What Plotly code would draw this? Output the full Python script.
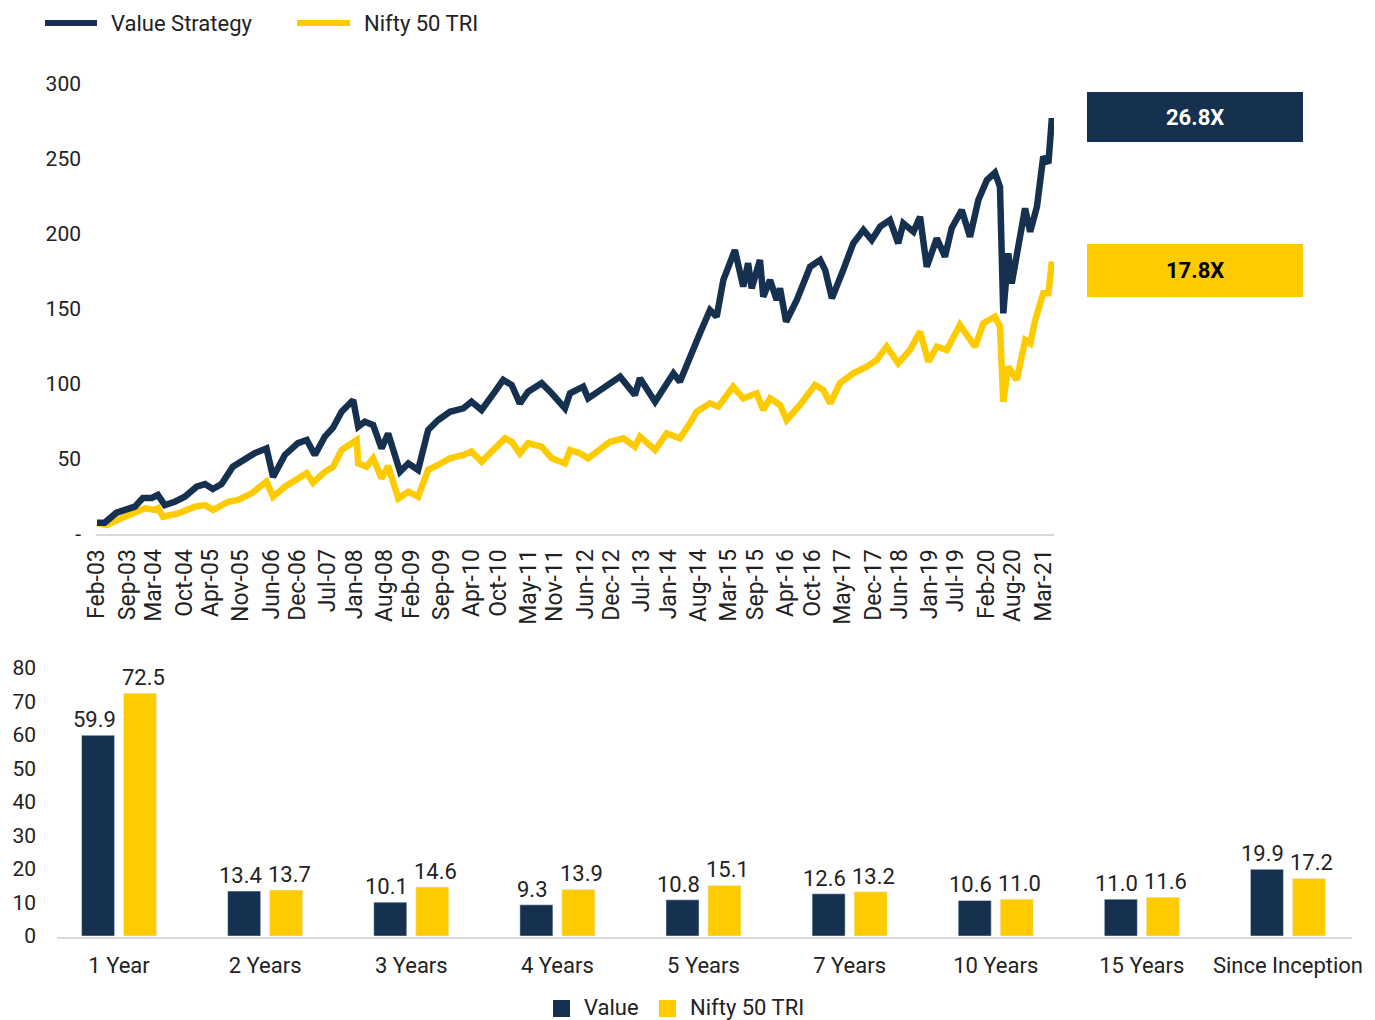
import plotly.graph_objects as go
import pandas as pd

# ---------------- data ----------------
value_dates = ["2003-02-01","2003-03-26","2003-06-17","2003-10-23","2003-12-18","2004-02-18","2004-04-01","2004-05-19",
    "2004-07-28","2004-10-06","2004-12-27","2005-02-24","2005-04-19","2005-06-19","2005-09-06","2005-11-06",
    "2006-02-08","2006-04-29","2006-06-14","2006-09-04","2006-12-04","2007-02-04","2007-04-01","2007-06-10",
    "2007-08-05","2007-10-05","2007-12-25","2008-01-29","2008-03-15","2008-05-12","2008-07-10","2008-08-25",
    "2008-11-16","2009-01-13","2009-03-22","2009-05-31","2009-08-09","2009-10-30","2010-02-01","2010-03-30",
    "2010-06-08","2010-09-09","2010-11-06","2011-01-04","2011-03-02","2011-04-29","2011-08-01","2011-10-10",
    "2012-01-11","2012-02-15","2012-05-17","2012-06-21","2012-10-04","2013-01-30","2013-05-13","2013-06-17",
    "2013-10-01","2014-02-06","2014-03-23","2014-05-20","2014-08-10","2014-10-19","2014-12-05","2015-01-20",
    "2015-04-11","2015-06-08","2015-07-12","2015-08-06","2015-10-03","2015-10-26","2015-12-12","2016-01-28",
    "2016-02-20","2016-04-02","2016-06-16","2016-09-17","2016-11-26","2016-12-31","2017-02-16","2017-05-06",
    "2017-07-15","2017-09-24","2017-11-21","2018-01-19","2018-03-28","2018-05-25","2018-06-29","2018-09-08",
    "2018-10-24","2018-12-10","2019-02-18","2019-04-16","2019-06-02","2019-08-11","2019-10-08","2019-12-05",
    "2020-02-03","2020-03-30","2020-05-04","2020-05-27","2020-07-01","2020-07-25","2020-09-22","2020-10-26",
    "2020-12-01","2021-01-17","2021-03-02","2021-04-07","2021-05-01","2021-05-16"]
value_strategy = [7.5,7.5,14.2,18.2,24,24,26,19.3,
    21.5,24.9,31.5,33.3,30,33.3,44.9,48.2,
    54,57,38,52.7,60.6,62.7,52.7,64.9,
    70.7,81.5,89.3,71.5,74.9,72.7,57,67,
    41.5,47,42.7,69.3,76,81.5,83.8,88.2,
    82.7,94.9,102.7,99.3,87.1,94.9,100.5,93.8,
    83.8,93.8,98.2,90.4,97.1,104.9,92.7,103.8,
    88.2,107.1,101.5,113.8,133.8,149.3,144.9,169.3,
    189.3,164.9,180.5,163.8,182.7,158.2,169.3,156,
    163.8,141.5,156,178.2,182.7,176,157.1,176,
    193.8,202.7,196,204.9,209.3,193.8,207.1,201.5,
    211.5,178.2,197.1,184.9,203.8,216,198.2,222.7,
    236,240.9,231.5,147.1,187.1,167.1,198.2,217.1,
    201.5,218.2,251.5,247.1,277.1,268.2]

nifty_dates = ["2003-02-01","2003-04-08","2003-07-21","2003-10-23","2004-01-01","2004-03-10","2004-04-03","2004-05-07",
    "2004-08-21","2004-12-15","2005-02-24","2005-04-21","2005-08-04","2005-10-13","2006-01-15","2006-04-29",
    "2006-06-14","2006-09-04","2006-12-06","2007-02-04","2007-03-20","2007-06-10","2007-08-07","2007-10-05",
    "2008-01-18","2008-01-29","2008-03-27","2008-05-12","2008-07-10","2008-08-25","2008-11-04","2009-01-13",
    "2009-03-22","2009-05-31","2009-08-09","2009-10-30","2010-02-01","2010-03-30","2010-06-08","2010-09-09",
    "2010-11-18","2011-01-04","2011-03-02","2011-04-29","2011-08-01","2011-10-10","2012-01-11","2012-02-15",
    "2012-04-24","2012-06-21","2012-11-21","2013-02-22","2013-05-13","2013-06-17","2013-10-01","2013-12-21",
    "2014-03-23","2014-06-01","2014-07-17","2014-10-19","2014-12-16","2015-03-30","2015-06-08","2015-09-10",
    "2015-10-26","2015-12-12","2016-02-20","2016-04-06","2016-07-08","2016-10-21","2016-12-18","2017-02-04",
    "2017-04-13","2017-07-15","2017-10-17","2017-12-26","2018-03-05","2018-05-25","2018-08-15","2018-10-24",
    "2018-12-21","2019-02-18","2019-04-28","2019-07-29","2019-11-12","2020-01-09","2020-03-30","2020-05-04",
    "2020-05-27","2020-07-01","2020-08-29","2020-10-27","2020-12-01","2021-01-05","2021-03-02","2021-04-07",
    "2021-05-01","2021-05-16"]
nifty_50_tri = [7.5,6,10.5,13.8,17.1,16,17.1,11.5,
    13.8,18.2,19.3,16,21.5,22.7,27.1,34.9,
    24.9,31.5,37.1,40.5,34.2,41.5,44.9,56,
    62.7,47,44.9,50.5,37.1,45.3,23.8,28.2,
    24.9,42.7,46,50.5,52.7,54.9,48.2,57.1,
    63.8,61.5,53.8,60.5,58.2,50.5,47.1,56,
    53.8,50.5,61.5,63.8,58.2,64.9,56,67.1,
    63.8,73.8,81.5,87.1,84.9,98.2,90.4,93.8,
    82.7,90.4,86,76,86,99.3,96,87.1,
    100.5,107.1,111.5,116,124.9,113.8,122.7,134.9,
    114.9,124.9,122.7,139.3,124.9,140.5,144.9,138.2,
    88.2,111.5,102.7,129.3,127.1,142.7,160.5,160.5,
    181.5,172.7]

x_tick_labels = ["Feb-03","Sep-03","Mar-04","Oct-04","Apr-05","Nov-05","Jun-06","Dec-06","Jul-07",
    "Jan-08","Aug-08","Feb-09","Sep-09","Apr-10","Oct-10","May-11","Nov-11","Jun-12","Dec-12",
    "Jul-13","Jan-14","Aug-14","Mar-15","Sep-15","Apr-16","Oct-16","May-17","Dec-17","Jun-18",
    "Jan-19","Jul-19","Feb-20","Aug-20","Mar-21"]
y_tick_values = [0, 50, 100, 150, 200, 250, 300]
y_tick_labels = ["-", "50", "100", "150", "200", "250", "300"]

series_names = ["Value Strategy", "Nifty 50 TRI"]
multiples = ["26.8X", "17.8X"]

periods = ["1 Year","2 Years","3 Years","4 Years","5 Years","7 Years","10 Years","15 Years","Since Inception"]
value_returns = [59.9,13.4,10.1,9.3,10.8,12.6,10.6,11.0,19.9]
nifty_returns = [72.5,13.7,14.6,13.9,15.1,13.2,11.0,11.6,17.2]
bar_names = ["Value", "Nifty 50 TRI"]

# ---------------- styling ----------------
NAVY = "#15314F"
GOLD = "#FECB00"
TXT = "#222222"
AXIS = "#D9D9D9"
FONT = "Roboto"
W, H = 1375, 1020

def px(x):
    return x / W

def py(y):
    return 1 - y / H

tick_dates = pd.to_datetime(x_tick_labels, format="%b-%y")

fig = go.Figure()
fig.add_trace(go.Scatter(x=pd.to_datetime(nifty_dates), y=nifty_50_tri, mode="lines",
                         line=dict(color=GOLD, width=6.5), name=series_names[1],
                         showlegend=False, xaxis="x", yaxis="y"))
fig.add_trace(go.Scatter(x=pd.to_datetime(value_dates), y=value_strategy, mode="lines",
                         line=dict(color=NAVY, width=6.5), name=series_names[0],
                         showlegend=False, xaxis="x", yaxis="y"))

fig.add_trace(go.Bar(x=periods, y=value_returns, name=bar_names[0], marker_color=NAVY,
                     showlegend=False, xaxis="x2", yaxis="y2"))
fig.add_trace(go.Bar(x=periods, y=nifty_returns, name=bar_names[1], marker_color=GOLD,
                     showlegend=False, xaxis="x2", yaxis="y2"))

fig.update_layout(
    width=W, height=H,
    margin=dict(l=0, r=0, t=0, b=0, autoexpand=False),
    paper_bgcolor="white", plot_bgcolor="white",
    font=dict(family=FONT, color=TXT, size=21),
    barmode="group", bargap=0.425, bargroupgap=0.214,
    xaxis=dict(domain=[px(96), px(1054)], anchor="y", type="date", automargin=False,
               range=["2003-01-25", "2021-05-16"],
               tickvals=tick_dates, ticktext=x_tick_labels, tickangle=-90,
               tickfont=dict(size=23, color=TXT), ticklabelstandoff=4,
               showgrid=False, zeroline=False, showline=True, linecolor=AXIS, linewidth=2,
               ticks=""),
    yaxis=dict(domain=[py(534), py(84)], anchor="x", range=[0, 300], automargin=False,
               tickvals=y_tick_values, ticktext=y_tick_labels,
               tickfont=dict(size=21, color=TXT), ticklabelstandoff=14,
               showgrid=False, zeroline=False, showline=False, ticks=""),
    xaxis2=dict(domain=[px(46), px(1361)], anchor="y2", type="category", automargin=False,
                tickfont=dict(size=22, color=TXT), ticklabelstandoff=14,
                showgrid=False, zeroline=False, showline=False, ticks=""),
    yaxis2=dict(domain=[py(936), py(668)], anchor="x2", range=[0, 80], dtick=10, automargin=False,
                tickfont=dict(size=21, color=TXT), ticklabelstandoff=9,
                showgrid=False, zeroline=False, showline=False, ticks=""),
)

shapes = []
annotations = []

# bar value labels (placed just above each bar, nudged outward like the original)
for cat, v, n in zip(periods, value_returns, nifty_returns):
    annotations.append(dict(xref="x2", yref="y2", x=cat, y=v, text=f"{v:.1f}",
                            showarrow=False, xanchor="center", yanchor="bottom",
                            xshift=-25, yshift=1, font=dict(size=22, color=TXT, family=FONT)))
    annotations.append(dict(xref="x2", yref="y2", x=cat, y=n, text=f"{n:.1f}",
                            showarrow=False, xanchor="center", yanchor="bottom",
                            xshift=24, yshift=1, font=dict(size=22, color=TXT, family=FONT)))

# bottom chart base line
shapes.append(dict(type="line", xref="paper", yref="paper", x0=px(57), x1=px(1352),
                   y0=py(938), y1=py(938), line=dict(color=AXIS, width=2), layer="below"))

# top legend
leg_top = [(45, 97, 109, NAVY, series_names[0]), (297, 350, 362, GOLD, series_names[1])]
for x0, x1, xt, col, name in leg_top:
    shapes.append(dict(type="line", xref="paper", yref="paper", x0=px(x0), x1=px(x1),
                       y0=py(23), y1=py(23), line=dict(color=col, width=6)))
    annotations.append(dict(xref="paper", yref="paper", x=px(xt), y=py(23), text=name,
                            showarrow=False, xanchor="left", yanchor="middle",
                            font=dict(size=22, color=TXT, family=FONT)))

# multiple boxes
boxes = [(92, 142, NAVY, "white", multiples[0]), (244, 297, GOLD, "black", multiples[1])]
for y0, y1, col, tcol, txt in boxes:
    shapes.append(dict(type="rect", xref="paper", yref="paper", x0=px(1087), x1=px(1303),
                       y0=py(y1), y1=py(y0), fillcolor=col, line=dict(width=0)))
    annotations.append(dict(xref="paper", yref="paper", x=px(1195), y=py((y0 + y1) / 2),
                            text="<b>" + txt + "</b>", showarrow=False,
                            xanchor="center", yanchor="middle",
                            font=dict(size=22, color=tcol, family=FONT)))

# bottom legend
leg_bot = [(553, 582, NAVY, bar_names[0]), (659, 688, GOLD, bar_names[1])]
for xs, xt, col, name in leg_bot:
    shapes.append(dict(type="rect", xref="paper", yref="paper", x0=px(xs), x1=px(xs + 17),
                       y0=py(1017), y1=py(1000), fillcolor=col, line=dict(width=0)))
    annotations.append(dict(xref="paper", yref="paper", x=px(xt), y=py(1007), text=name,
                            showarrow=False, xanchor="left", yanchor="middle",
                            font=dict(size=22, color=TXT, family=FONT)))

fig.update_layout(shapes=shapes, annotations=annotations)
fig.write_html("out.html")
